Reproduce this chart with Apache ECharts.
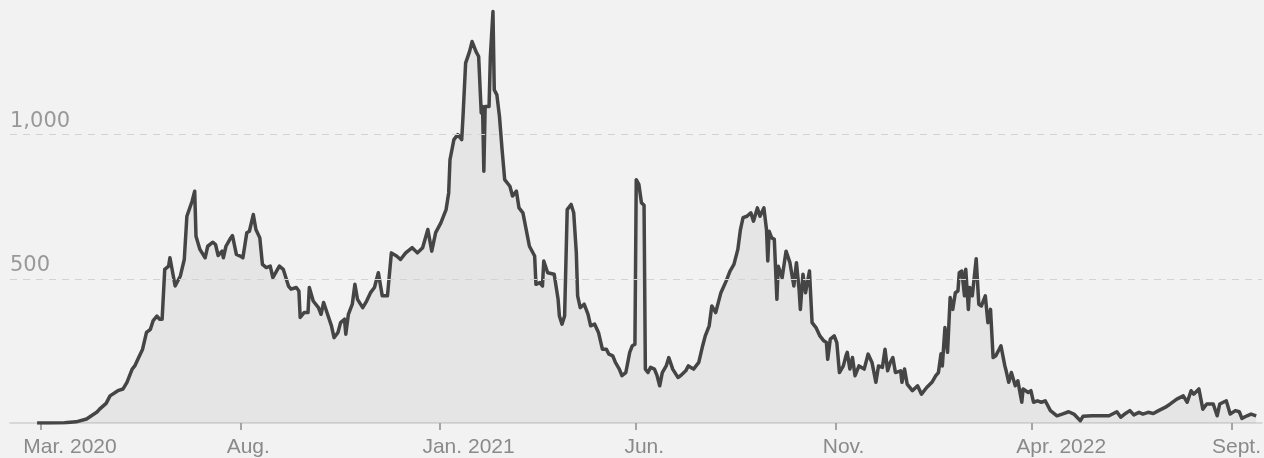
<!DOCTYPE html>
<html>
<head>
<meta charset="utf-8">
<script src="https://cdn.jsdelivr.net/npm/echarts@6/dist/echarts.min.js"></script>
<style>
html,body{margin:0;padding:0;background:#f2f2f2;}
#chart{width:1264px;height:458px;}
</style>
</head>
<body>
<div id="chart"></div>
<script>
// Days since 2020-03-01
var days = [-3,7,18,27,35,43,45,50,53,59,63,66,70,72,75,78,81,84,86,89,91,93,95,98,99,103,107,110,112,116,118,119,122,126,128,132,134,136,139,140,142,145,147,150,153,155,158,160,163,165,168,170,173,176,178,183,186,190,192,196,198,199,202,205,206,209,213,215,217,220,223,225,228,230,233,234,236,239,241,243,247,250,253,256,259,262,264,266,269,273,276,280,285,289,293,297,300,303,307,311,313,314,317,320,323,324,326,329,331,334,336,338,339,340,341,344,345,347,348,350,352,354,356,360,362,365,367,370,375,379,380,383,385,386,389,394,397,398,400,402,404,407,409,411,412,414,417,420,422,425,428,431,434,436,439,441,444,446,449,452,454,456,457,459,461,463,464,466,468,471,473,475,477,480,482,485,489,491,495,497,501,505,508,510,513,515,518,522,526,529,532,535,537,539,542,545,547,550,552,555,557,558,559,561,563,565,566,569,572,575,578,580,582,583,585,587,590,592,595,598,601,603,604,606,609,611,613,616,618,619,621,623,625,628,632,635,638,641,643,646,648,650,652,654,656,660,661,663,665,669,673,676,680,684,687,689,691,692,694,696,698,700,702,704,705,707,709,710,712,713,715,718,720,722,725,727,729,731,733,735,737,740,741,743,745,748,750,753,754,758,760,762,765,768,771,775,780,784,789,793,798,800,807,820,826,829,832,836,839,843,846,850,854,858,863,867,872,877,880,883,885,889,892,895,900,903,905,910,913,917,920,922,926,929,933];
var cases = [0,0,1,4,14,38,48,68,94,112,118,141,187,198,227,256,314,325,354,371,360,360,533,544,573,475,510,567,717,769,804,648,602,573,613,627,619,581,596,573,613,637,650,585,579,573,660,665,723,671,642,550,539,544,504,544,533,475,464,470,458,366,383,383,470,423,400,377,418,377,337,296,314,348,360,308,377,412,481,429,400,423,452,470,521,441,441,441,590,579,567,590,608,590,608,671,596,660,694,740,798,913,983,1000,983,1063,1248,1288,1323,1288,1271,1075,1098,873,1098,1098,1271,1427,1156,1138,1063,948,844,821,787,804,746,729,613,579,481,487,475,562,521,516,429,371,343,371,740,758,729,590,441,400,412,377,337,343,314,256,256,239,233,210,187,164,175,245,268,273,844,828,764,755,187,175,193,187,164,129,175,198,227,187,158,164,181,198,187,210,268,302,337,406,383,452,492,527,550,602,671,712,717,729,700,746,717,746,671,562,665,642,637,429,544,504,596,556,475,556,464,394,516,452,527,348,331,302,285,279,221,291,302,279,175,198,233,245,187,227,164,198,187,239,210,141,198,193,256,181,210,227,175,181,141,187,135,112,129,100,123,141,164,175,240,198,331,245,435,394,452,458,521,527,441,533,394,470,441,570,412,406,441,348,394,227,233,250,268,198,181,141,175,129,146,72,118,106,112,72,77,72,77,43,25,31,39,31,8,23,25,25,39,20,31,43,28,37,31,37,33,43,54,66,83,94,72,112,100,118,48,66,66,25,66,77,31,43,39,16,25,31,25];
var tickDays = [0,153,306,457,610,761,914];
var tickLabels = ['Mar. 2020','Aug.','Jan. 2021','Jun.','Nov.','Apr. 2022','Sept.'];
var tickKinds = ['y','m','y','m','m','y','e'];
var yTicks = [500,1000];
var yTickLabels = ['500','1,000'];

var data = days.map(function(d,i){ return [d, cases[i]]; });

var chart = echarts.init(document.getElementById('chart'));
chart.setOption({
  backgroundColor: '#f2f2f2',
  animation: false,
  grid: { left: 10, right: 0, top: 0, bottom: 34 },
  xAxis: {
    type: 'value',
    min: -23.8,
    max: 937.5,
    axisLine: { show: true, lineStyle: { color: '#cfcfcf', width: 1.5 } },
    axisTick: { show: true, customValues: tickDays, length: 7, lineStyle: { color: '#8c8c8c', width: 1.5 } },
    splitLine: { show: false },
    axisLabel: {
      customValues: tickDays,
      margin: 14,
      formatter: function(v){
        var i = tickDays.indexOf(v);
        if (i < 0) return '';
        return '{' + tickKinds[i] + '|' + tickLabels[i] + '}';
      },
      rich: {
        y: { padding: [0,0,0,58], fontSize: 21, color: '#8a8a8a', fontFamily: 'Liberation Sans' },
        m: { padding: [0,0,0,16], fontSize: 21, color: '#8a8a8a', fontFamily: 'Liberation Sans' },
        e: { padding: [0,0,0,10], fontSize: 21, color: '#8a8a8a', fontFamily: 'Liberation Sans' }
      }
    }
  },
  yAxis: {
    type: 'value',
    min: 0,
    max: 1467,
    interval: 500,
    axisLine: { show: false },
    axisTick: { show: false },
    splitLine: { show: false },
    axisLabel: {
      inside: true,
      margin: 0,
      verticalAlign: 'bottom',
      padding: [0,0,3,0],
      fontSize: 21,
      fontFamily: 'DejaVu Sans',
      color: '#999999',
      formatter: function(v){
        var i = yTicks.indexOf(v);
        return i < 0 ? '' : yTickLabels[i];
      }
    }
  },
  series: [{
    type: 'line',
    data: data,
    showSymbol: false,
    smooth: false,
    lineStyle: { color: '#454545', width: 3.5, join: 'round' },
    areaStyle: { color: 'rgba(0,0,0,0.075)' },
    z: 3,
    markLine: {
      silent: true,
      symbol: ['none','none'],
      label: { show: false },
      lineStyle: { color: '#d3d3d3', type: [7,6], width: 1 },
      data: yTicks.map(function(v){ return { yAxis: v }; })
    }
  }]
});
</script>
</body>
</html>
